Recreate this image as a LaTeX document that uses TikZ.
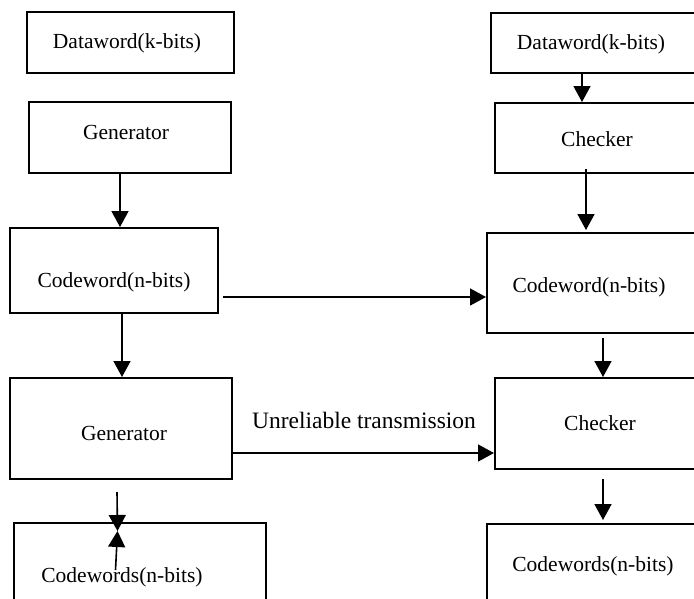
\documentclass[tikz,border=0pt]{standalone}
\usepackage{fontspec}
\setmainfont{Liberation Serif}
\usetikzlibrary{arrows.meta}
\begin{document}
\begin{tikzpicture}[x=1pt,y=-1pt,
  box/.style={draw, line width=2pt, rectangle, inner sep=0pt},
  txt/.style={inner sep=0pt, font=\fontsize{21.5}{25}\selectfont},
  big/.style={inner sep=0pt, font=\fontsize{23.5}{28}\selectfont},
  arr/.style={line width=1.6pt, -{Triangle[length=16pt,width=17pt]}}]
\useasboundingbox (0,0) rectangle (694,598);
\clip (0,0) rectangle (694,598);
\fill[white] (0,0) rectangle (694,598);
% boxes (left, top, right, bottom)
\node[box, minimum width=207pt, minimum height=61pt] (dl) at (130.5,42.5) {};
\node[box, minimum width=202pt, minimum height=71pt] (gl) at (130,137.5) {};
\node[box, minimum width=208pt, minimum height=85pt] (cl) at (114,270.5) {};
\node[box, minimum width=222pt, minimum height=101pt] (gl2) at (121,428.5) {};
\node[box, minimum width=252pt, minimum height=97pt] (cwl) at (140,571.5) {};
\node[box, minimum width=209pt, minimum height=60pt] (dr) at (595.5,43) {};
\node[box, minimum width=205pt, minimum height=70pt] (cr) at (597.5,138) {};
\node[box, minimum width=213pt, minimum height=100pt] (cwr) at (593.5,283) {};
\node[box, minimum width=205pt, minimum height=91pt] (cr2) at (597.5,423.5) {};
\node[box, minimum width=213pt, minimum height=96pt] (cwsr) at (593.5,572) {};
% texts
\node[txt] (tdl) at (127,43) {Dataword(k-bits)};
\node[txt] (tgl) at (126,132) {Generator};
\node[txt] (tcl) at (114,282) {Codeword(n-bits)};
\node[txt] (tgl2) at (124,433) {Generator};
\node[txt] (tcwl) at (122,577) {Codewords(n-bits)};
\node[txt] (tdr) at (591,44) {Dataword(k-bits)};
\node[txt] (tcr) at (597,139) {Checker};
\node[txt] (tcwr) at (589,287) {Codeword(n-bits)};
\node[txt] (tcr2) at (600,423) {Checker};
\node[txt] (tcwsr) at (593,566) {Codewords(n-bits)};
\node[big] (lab) at (364,420) {Unreliable transmission};
% connectors
\draw[arr] (gl.south -| 120,0) -- (cl.north -| 120,0);
\draw[arr] (cl.south -| 122,0) -- (gl2.north -| 122,0);
\draw[arr, shorten <=4pt] (cl.east |- 0,297) -- (cwr.west |- 0,297);
\draw[arr] (gl2.east |- 0,453) -- (cr2.west |- 0,453);
\draw[arr] (dr.south -| 582,0) -- (cr.north -| 582,0);
\draw[arr, shorten <=-5pt, shorten >=2pt] (cr.south -| 586,0) -- (cwr.north -| 586,0);
\draw[arr, shorten <=4pt] (cwr.south -| 603,0) -- (cr2.north -| 603,0);
\draw[arr, shorten <=9pt, shorten >=3pt] (cr2.south -| 603,0) -- (cwsr.north -| 603,0);
% odd double arrow at bottom left
\coordinate (ta) at (117,492);
\coordinate (mid) at (117.5,531);
\coordinate (tb) at (115.5,570);
\draw[arr] (ta) -- (mid);
\draw[arr] (tb) -- (mid);
\end{tikzpicture}
\end{document}
